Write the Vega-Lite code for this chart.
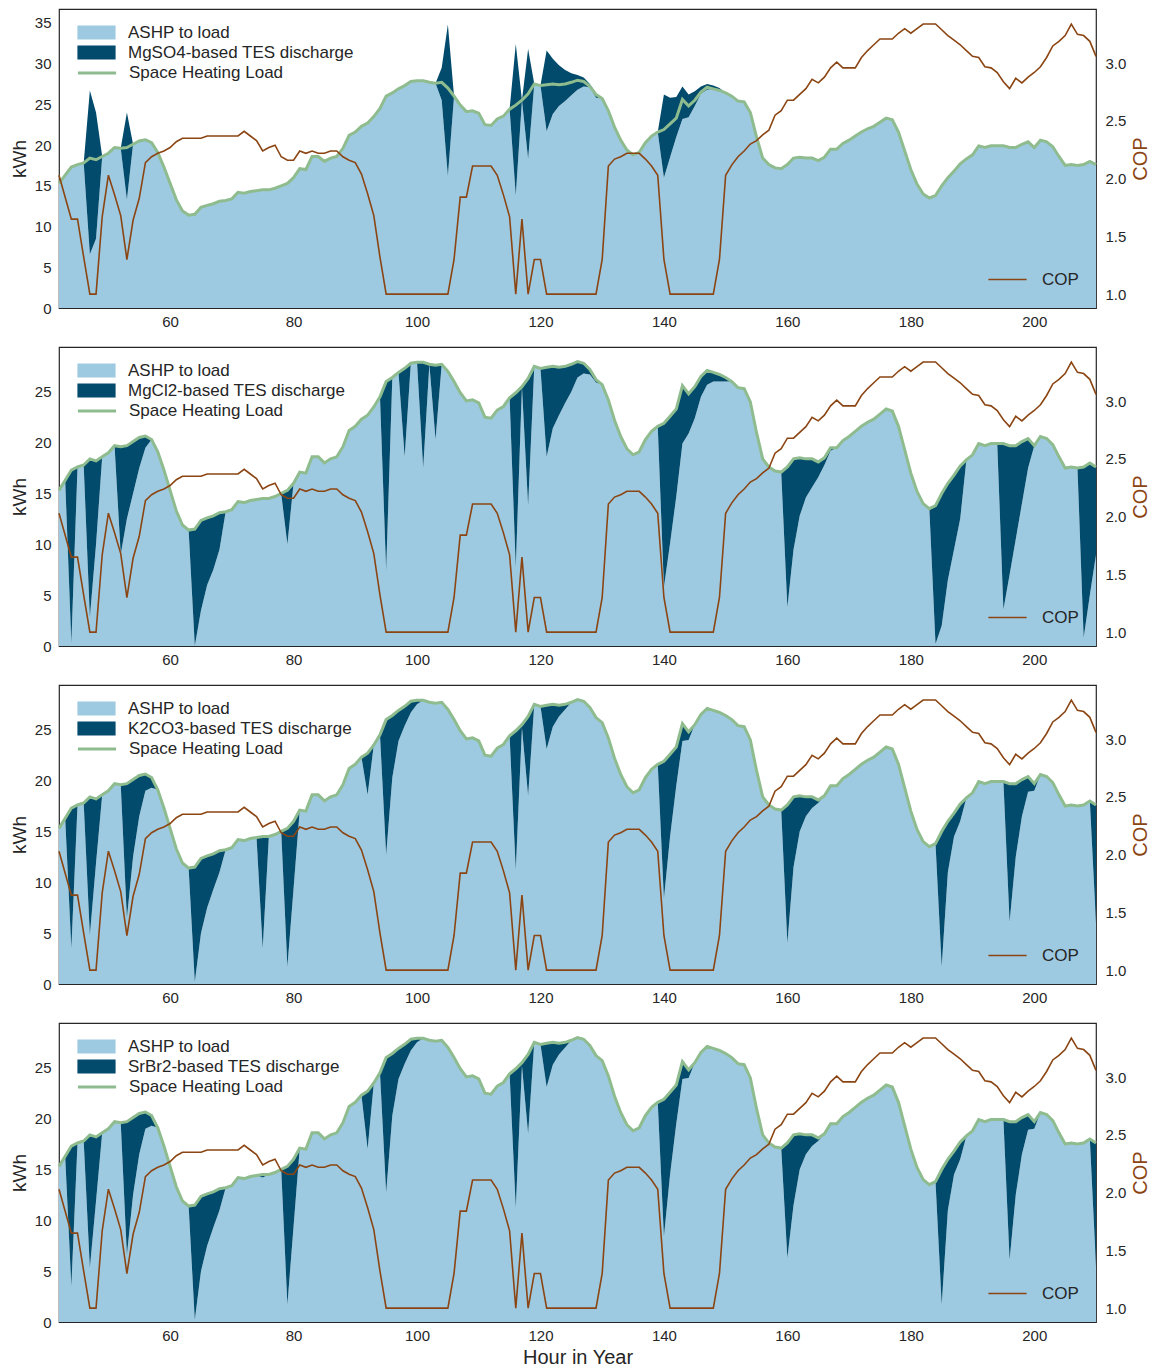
{
"$schema": "https://vega.github.io/schema/vega-lite/v6.json",
"padding": {"left": 9, "top": 8, "right": 4, "bottom": 4},
"data": {"values": [
{"h":42,"L":15.3,"C":2.03,"a1":15.3,"t1":0,"a2":15.3,"t2":0,"a3":15.3,"t3":0,"a4":15.3,"t4":0},
{"h":43,"L":16.3,"C":1.84,"a1":16.3,"t1":0,"a2":16.3,"t2":0,"a3":16.3,"t3":0,"a4":16.3,"t4":0},
{"h":44,"L":17.3,"C":1.65,"a1":17.3,"t1":0,"a2":0.3,"t2":17.0,"a3":3.5,"t3":13.8,"a4":3.5,"t4":13.8},
{"h":45,"L":17.6,"C":1.65,"a1":17.6,"t1":0,"a2":17.6,"t2":0,"a3":17.6,"t3":0,"a4":17.6,"t4":0},
{"h":46,"L":17.8,"C":1.32,"a1":17.8,"t1":0,"a2":17.8,"t2":0,"a3":17.8,"t3":0,"a4":17.8,"t4":0},
{"h":47,"L":18.4,"C":1.0,"a1":6.6,"t1":20.1,"a2":2.8,"t2":15.6,"a3":4.8,"t3":13.6,"a4":5.3,"t4":13.1},
{"h":48,"L":18.2,"C":1.0,"a1":8.5,"t1":15.5,"a2":10.0,"t2":8.2,"a3":11.9,"t3":6.3,"a4":11.9,"t4":6.3},
{"h":49,"L":18.6,"C":1.67,"a1":18.6,"t1":0,"a2":18.6,"t2":0,"a3":18.6,"t3":0,"a4":18.6,"t4":0},
{"h":50,"L":19.0,"C":2.03,"a1":19.0,"t1":0,"a2":19.0,"t2":0,"a3":19.0,"t3":0,"a4":19.0,"t4":0},
{"h":51,"L":19.7,"C":1.86,"a1":19.7,"t1":0,"a2":19.7,"t2":0,"a3":19.7,"t3":0,"a4":19.7,"t4":0},
{"h":52,"L":19.6,"C":1.68,"a1":19.6,"t1":0,"a2":9.0,"t2":10.6,"a3":19.6,"t3":0,"a4":19.6,"t4":0},
{"h":53,"L":19.7,"C":1.30,"a1":13.3,"t1":10.7,"a2":12.5,"t2":7.2,"a3":6.5,"t3":13.2,"a4":6.6,"t4":13.1},
{"h":54,"L":20.1,"C":1.64,"a1":20.1,"t1":0,"a2":15.0,"t2":5.1,"a3":12.5,"t3":7.6,"a4":12.5,"t4":7.6},
{"h":55,"L":20.5,"C":1.83,"a1":20.5,"t1":0,"a2":17.5,"t2":3.0,"a3":16.5,"t3":4.0,"a4":16.5,"t4":4.0},
{"h":56,"L":20.65,"C":2.14,"a1":20.65,"t1":0,"a2":19.5,"t2":1.15,"a3":19.0,"t3":1.65,"a4":19.0,"t4":1.65},
{"h":57,"L":20.3,"C":2.19,"a1":20.3,"t1":0,"a2":20.3,"t2":0,"a3":19.3,"t3":1.0,"a4":19.3,"t4":1.0},
{"h":58,"L":19.1,"C":2.22,"a1":19.1,"t1":0,"a2":19.1,"t2":0,"a3":19.1,"t3":0,"a4":19.1,"t4":0},
{"h":59,"L":17.3,"C":2.24,"a1":17.3,"t1":0,"a2":17.3,"t2":0,"a3":17.3,"t3":0,"a4":17.3,"t4":0},
{"h":60,"L":15.3,"C":2.27,"a1":15.3,"t1":0,"a2":15.3,"t2":0,"a3":15.3,"t3":0,"a4":15.3,"t4":0},
{"h":61,"L":13.3,"C":2.32,"a1":13.3,"t1":0,"a2":13.3,"t2":0,"a3":13.3,"t3":0,"a4":13.3,"t4":0},
{"h":62,"L":11.9,"C":2.35,"a1":11.9,"t1":0,"a2":11.9,"t2":0,"a3":11.9,"t3":0,"a4":11.9,"t4":0},
{"h":63,"L":11.4,"C":2.35,"a1":11.4,"t1":0,"a2":11.4,"t2":0,"a3":11.4,"t3":0,"a4":11.4,"t4":0},
{"h":64,"L":11.5,"C":2.35,"a1":11.5,"t1":0,"a2":0.0,"t2":11.5,"a3":0.2,"t3":11.3,"a4":0.2,"t4":11.3},
{"h":65,"L":12.35,"C":2.35,"a1":12.35,"t1":0,"a2":3.5,"t2":8.85,"a3":5.0,"t3":7.35,"a4":5.0,"t4":7.35},
{"h":66,"L":12.6,"C":2.37,"a1":12.6,"t1":0,"a2":6.0,"t2":6.6,"a3":7.5,"t3":5.1,"a4":7.5,"t4":5.1},
{"h":67,"L":12.8,"C":2.37,"a1":12.8,"t1":0,"a2":7.5,"t2":5.3,"a3":9.3,"t3":3.5,"a4":9.3,"t4":3.5},
{"h":68,"L":13.1,"C":2.37,"a1":13.1,"t1":0,"a2":9.5,"t2":3.6,"a3":11.0,"t3":2.1,"a4":11.0,"t4":2.1},
{"h":69,"L":13.2,"C":2.37,"a1":13.2,"t1":0,"a2":13.2,"t2":0,"a3":13.2,"t3":0,"a4":13.2,"t4":0},
{"h":70,"L":13.4,"C":2.37,"a1":13.4,"t1":0,"a2":13.4,"t2":0,"a3":13.4,"t3":0,"a4":13.4,"t4":0},
{"h":71,"L":14.2,"C":2.37,"a1":14.2,"t1":0,"a2":14.2,"t2":0,"a3":14.2,"t3":0,"a4":14.2,"t4":0},
{"h":72,"L":14.1,"C":2.41,"a1":14.1,"t1":0,"a2":14.1,"t2":0,"a3":14.1,"t3":0,"a4":14.1,"t4":0},
{"h":73,"L":14.3,"C":2.37,"a1":14.3,"t1":0,"a2":14.3,"t2":0,"a3":14.3,"t3":0,"a4":14.3,"t4":0},
{"h":74,"L":14.4,"C":2.33,"a1":14.4,"t1":0,"a2":14.4,"t2":0,"a3":14.4,"t3":0,"a4":14.4,"t4":0},
{"h":75,"L":14.5,"C":2.24,"a1":14.5,"t1":0,"a2":14.5,"t2":0,"a3":3.5,"t3":11.0,"a4":14.2,"t4":0.3},
{"h":76,"L":14.5,"C":2.27,"a1":14.5,"t1":0,"a2":14.5,"t2":0,"a3":14.5,"t3":0,"a4":14.5,"t4":0},
{"h":77,"L":14.7,"C":2.29,"a1":14.7,"t1":0,"a2":14.7,"t2":0,"a3":14.7,"t3":0,"a4":14.7,"t4":0},
{"h":78,"L":15.0,"C":2.19,"a1":15.0,"t1":0,"a2":15.0,"t2":0,"a3":15.0,"t3":0,"a4":15.0,"t4":0},
{"h":79,"L":15.3,"C":2.16,"a1":15.3,"t1":0,"a2":10.0,"t2":5.3,"a3":1.7,"t3":13.6,"a4":1.7,"t4":13.6},
{"h":80,"L":16.0,"C":2.16,"a1":16.0,"t1":0,"a2":16.0,"t2":0,"a3":9.4,"t3":6.6,"a4":9.4,"t4":6.6},
{"h":81,"L":17.1,"C":2.24,"a1":17.1,"t1":0,"a2":17.1,"t2":0,"a3":17.1,"t3":0,"a4":17.1,"t4":0},
{"h":82,"L":17.0,"C":2.22,"a1":17.0,"t1":0,"a2":17.0,"t2":0,"a3":17.0,"t3":0,"a4":17.0,"t4":0},
{"h":83,"L":18.6,"C":2.24,"a1":18.6,"t1":0,"a2":18.6,"t2":0,"a3":18.6,"t3":0,"a4":18.6,"t4":0},
{"h":84,"L":18.6,"C":2.22,"a1":18.6,"t1":0,"a2":18.6,"t2":0,"a3":18.6,"t3":0,"a4":18.6,"t4":0},
{"h":85,"L":18.0,"C":2.22,"a1":18.0,"t1":0,"a2":18.0,"t2":0,"a3":18.0,"t3":0,"a4":18.0,"t4":0},
{"h":86,"L":18.4,"C":2.24,"a1":18.4,"t1":0,"a2":18.4,"t2":0,"a3":18.4,"t3":0,"a4":18.4,"t4":0},
{"h":87,"L":18.6,"C":2.24,"a1":18.6,"t1":0,"a2":18.6,"t2":0,"a3":18.6,"t3":0,"a4":18.6,"t4":0},
{"h":88,"L":19.6,"C":2.19,"a1":19.6,"t1":0,"a2":19.6,"t2":0,"a3":19.6,"t3":0,"a4":19.6,"t4":0},
{"h":89,"L":21.2,"C":2.16,"a1":21.2,"t1":0,"a2":21.2,"t2":0,"a3":21.2,"t3":0,"a4":21.2,"t4":0},
{"h":90,"L":21.6,"C":2.14,"a1":21.6,"t1":0,"a2":21.6,"t2":0,"a3":21.6,"t3":0,"a4":21.6,"t4":0},
{"h":91,"L":22.3,"C":2.04,"a1":22.3,"t1":0,"a2":22.3,"t2":0,"a3":22.3,"t3":0,"a4":22.3,"t4":0},
{"h":92,"L":22.7,"C":1.87,"a1":22.7,"t1":0,"a2":22.7,"t2":0,"a3":18.6,"t3":4.1,"a4":17.0,"t4":5.7},
{"h":93,"L":23.5,"C":1.68,"a1":23.5,"t1":0,"a2":23.5,"t2":0,"a3":23.5,"t3":0,"a4":23.5,"t4":0},
{"h":94,"L":24.5,"C":1.32,"a1":24.5,"t1":0,"a2":24.5,"t2":0,"a3":24.5,"t3":0,"a4":24.5,"t4":0},
{"h":95,"L":26.0,"C":1.0,"a1":26.0,"t1":0,"a2":7.4,"t2":18.6,"a3":12.7,"t3":13.3,"a4":12.7,"t4":13.3},
{"h":96,"L":26.4,"C":1.0,"a1":26.4,"t1":0,"a2":26.4,"t2":0,"a3":20.3,"t3":6.1,"a4":20.3,"t4":6.1},
{"h":97,"L":26.9,"C":1.0,"a1":26.9,"t1":0,"a2":26.9,"t2":0,"a3":23.9,"t3":3.0,"a4":23.9,"t4":3.0},
{"h":98,"L":27.3,"C":1.0,"a1":27.3,"t1":0,"a2":18.6,"t2":8.7,"a3":25.4,"t3":1.9,"a4":25.4,"t4":1.9},
{"h":99,"L":27.8,"C":1.0,"a1":27.8,"t1":0,"a2":27.8,"t2":0,"a3":26.7,"t3":1.1,"a4":26.7,"t4":1.1},
{"h":100,"L":27.9,"C":1.0,"a1":27.9,"t1":0,"a2":27.9,"t2":0,"a3":27.5,"t3":0.4,"a4":27.5,"t4":0.4},
{"h":101,"L":27.9,"C":1.0,"a1":27.9,"t1":0,"a2":17.5,"t2":10.4,"a3":27.9,"t3":0,"a4":27.9,"t4":0},
{"h":102,"L":27.7,"C":1.0,"a1":27.7,"t1":0,"a2":27.7,"t2":0,"a3":27.7,"t3":0,"a4":27.7,"t4":0},
{"h":103,"L":27.6,"C":1.0,"a1":27.6,"t1":0,"a2":20.3,"t2":7.3,"a3":27.6,"t3":0,"a4":27.6,"t4":0},
{"h":104,"L":27.7,"C":1.0,"a1":25.5,"t1":4.0,"a2":27.7,"t2":0,"a3":27.7,"t3":0,"a4":27.7,"t4":0},
{"h":105,"L":27.0,"C":1.0,"a1":16.2,"t1":18.6,"a2":27.0,"t2":0,"a3":27.0,"t3":0,"a4":27.0,"t4":0},
{"h":106,"L":26.0,"C":1.30,"a1":26.0,"t1":0,"a2":26.0,"t2":0,"a3":26.0,"t3":0,"a4":26.0,"t4":0},
{"h":107,"L":24.9,"C":1.84,"a1":24.9,"t1":0,"a2":24.9,"t2":0,"a3":24.9,"t3":0,"a4":24.9,"t4":0},
{"h":108,"L":24.1,"C":1.84,"a1":24.1,"t1":0,"a2":24.1,"t2":0,"a3":24.1,"t3":0,"a4":24.1,"t4":0},
{"h":109,"L":24.2,"C":2.11,"a1":24.2,"t1":0,"a2":24.2,"t2":0,"a3":24.2,"t3":0,"a4":24.2,"t4":0},
{"h":110,"L":23.9,"C":2.11,"a1":23.9,"t1":0,"a2":23.9,"t2":0,"a3":23.9,"t3":0,"a4":23.9,"t4":0},
{"h":111,"L":22.5,"C":2.11,"a1":22.5,"t1":0,"a2":22.5,"t2":0,"a3":22.5,"t3":0,"a4":22.5,"t4":0},
{"h":112,"L":22.4,"C":2.11,"a1":22.4,"t1":0,"a2":22.4,"t2":0,"a3":22.4,"t3":0,"a4":22.4,"t4":0},
{"h":113,"L":23.2,"C":2.03,"a1":23.2,"t1":0,"a2":23.2,"t2":0,"a3":23.2,"t3":0,"a4":23.2,"t4":0},
{"h":114,"L":23.55,"C":1.86,"a1":23.55,"t1":0,"a2":23.55,"t2":0,"a3":23.55,"t3":0,"a4":23.55,"t4":0},
{"h":115,"L":24.4,"C":1.67,"a1":24.4,"t1":0,"a2":24.4,"t2":0,"a3":24.4,"t3":0,"a4":24.4,"t4":0},
{"h":116,"L":24.9,"C":1.0,"a1":13.8,"t1":18.6,"a2":7.7,"t2":17.2,"a3":11.2,"t3":13.7,"a4":11.2,"t4":13.7},
{"h":117,"L":25.5,"C":1.65,"a1":25.5,"t1":0,"a2":25.5,"t2":0,"a3":25.2,"t3":0.3,"a4":25.2,"t4":0.3},
{"h":118,"L":26.3,"C":1.0,"a1":18.3,"t1":13.5,"a2":13.8,"t2":12.5,"a3":18.5,"t3":7.8,"a4":18.5,"t4":7.8},
{"h":119,"L":27.5,"C":1.30,"a1":27.5,"t1":0,"a2":27.5,"t2":0,"a3":27.5,"t3":0,"a4":27.5,"t4":0},
{"h":120,"L":27.3,"C":1.30,"a1":27.3,"t1":0,"a2":27.3,"t2":0,"a3":27.3,"t3":0,"a4":27.3,"t4":0},
{"h":121,"L":27.4,"C":1.0,"a1":21.7,"t1":9.9,"a2":18.6,"t2":8.8,"a3":23.1,"t3":4.3,"a4":23.1,"t4":4.3},
{"h":122,"L":27.5,"C":1.0,"a1":23.8,"t1":6.8,"a2":21.4,"t2":6.1,"a3":25.3,"t3":2.2,"a4":25.3,"t4":2.2},
{"h":123,"L":27.4,"C":1.0,"a1":24.8,"t1":5.0,"a2":22.7,"t2":4.7,"a3":26.3,"t3":1.1,"a4":26.3,"t4":1.1},
{"h":124,"L":27.5,"C":1.0,"a1":25.4,"t1":3.8,"a2":23.9,"t2":3.6,"a3":27.0,"t3":0.5,"a4":27.0,"t4":0.5},
{"h":125,"L":27.7,"C":1.0,"a1":26.1,"t1":2.7,"a2":25.0,"t2":2.7,"a3":27.7,"t3":0,"a4":27.7,"t4":0},
{"h":126,"L":27.96,"C":1.0,"a1":26.8,"t1":1.8,"a2":26.4,"t2":1.56,"a3":27.96,"t3":0,"a4":27.96,"t4":0},
{"h":127,"L":27.8,"C":1.0,"a1":27.2,"t1":1.1,"a2":26.8,"t2":1.0,"a3":27.8,"t3":0,"a4":27.8,"t4":0},
{"h":128,"L":27.2,"C":1.0,"a1":27.1,"t1":0.4,"a2":26.7,"t2":0.5,"a3":27.2,"t3":0,"a4":27.2,"t4":0},
{"h":129,"L":26.2,"C":1.0,"a1":25.8,"t1":0.6,"a2":25.9,"t2":0.3,"a3":26.2,"t3":0,"a4":26.2,"t4":0},
{"h":130,"L":25.7,"C":1.30,"a1":25.7,"t1":0,"a2":25.7,"t2":0,"a3":25.7,"t3":0,"a4":25.7,"t4":0},
{"h":131,"L":24.2,"C":2.11,"a1":24.2,"t1":0,"a2":24.2,"t2":0,"a3":24.2,"t3":0,"a4":24.2,"t4":0},
{"h":132,"L":22.2,"C":2.17,"a1":22.2,"t1":0,"a2":22.2,"t2":0,"a3":22.2,"t3":0,"a4":22.2,"t4":0},
{"h":133,"L":20.6,"C":2.19,"a1":20.6,"t1":0,"a2":20.6,"t2":0,"a3":20.6,"t3":0,"a4":20.6,"t4":0},
{"h":134,"L":19.4,"C":2.22,"a1":19.4,"t1":0,"a2":19.4,"t2":0,"a3":19.4,"t3":0,"a4":19.4,"t4":0},
{"h":135,"L":18.8,"C":2.22,"a1":18.8,"t1":0,"a2":18.8,"t2":0,"a3":18.8,"t3":0,"a4":18.8,"t4":0},
{"h":136,"L":19.1,"C":2.22,"a1":19.1,"t1":0,"a2":19.1,"t2":0,"a3":19.1,"t3":0,"a4":19.1,"t4":0},
{"h":137,"L":20.3,"C":2.17,"a1":20.3,"t1":0,"a2":20.3,"t2":0,"a3":20.3,"t3":0,"a4":20.3,"t4":0},
{"h":138,"L":21.1,"C":2.11,"a1":21.1,"t1":0,"a2":21.1,"t2":0,"a3":21.1,"t3":0,"a4":21.1,"t4":0},
{"h":139,"L":21.6,"C":2.03,"a1":21.6,"t1":0,"a2":21.6,"t2":0,"a3":21.6,"t3":0,"a4":21.6,"t4":0},
{"h":140,"L":21.9,"C":1.30,"a1":16.0,"t1":10.2,"a2":5.8,"t2":16.1,"a3":8.4,"t3":13.5,"a4":8.4,"t4":13.5},
{"h":141,"L":22.6,"C":1.0,"a1":18.5,"t1":7.3,"a2":10.1,"t2":12.5,"a3":14.5,"t3":8.1,"a4":14.5,"t4":8.1},
{"h":142,"L":23.3,"C":1.0,"a1":21.0,"t1":4.9,"a2":14.7,"t2":8.6,"a3":19.5,"t3":3.8,"a4":19.5,"t4":3.8},
{"h":143,"L":25.6,"C":1.0,"a1":23.2,"t1":4.0,"a2":19.9,"t2":5.7,"a3":23.9,"t3":1.7,"a4":23.9,"t4":1.7},
{"h":144,"L":24.8,"C":1.0,"a1":23.4,"t1":2.8,"a2":20.9,"t2":3.9,"a3":24.0,"t3":0.8,"a4":24.0,"t4":0.8},
{"h":145,"L":25.5,"C":1.0,"a1":24.8,"t1":1.8,"a2":22.4,"t2":3.1,"a3":25.5,"t3":0,"a4":25.5,"t4":0},
{"h":146,"L":26.5,"C":1.0,"a1":26.3,"t1":0.9,"a2":24.5,"t2":2.0,"a3":26.5,"t3":0,"a4":26.5,"t4":0},
{"h":147,"L":27.1,"C":1.0,"a1":26.8,"t1":0.7,"a2":25.7,"t2":1.4,"a3":27.1,"t3":0,"a4":27.1,"t4":0},
{"h":148,"L":26.9,"C":1.0,"a1":26.9,"t1":0.4,"a2":26.0,"t2":0.9,"a3":26.9,"t3":0,"a4":26.9,"t4":0},
{"h":149,"L":26.7,"C":1.30,"a1":26.7,"t1":0.3,"a2":26.0,"t2":0.7,"a3":26.7,"t3":0,"a4":26.7,"t4":0},
{"h":150,"L":26.4,"C":2.03,"a1":26.4,"t1":0,"a2":26.0,"t2":0.4,"a3":26.4,"t3":0,"a4":26.4,"t4":0},
{"h":151,"L":26.0,"C":2.12,"a1":26.0,"t1":0,"a2":26.0,"t2":0,"a3":26.0,"t3":0,"a4":26.0,"t4":0},
{"h":152,"L":25.4,"C":2.19,"a1":25.4,"t1":0,"a2":25.4,"t2":0,"a3":25.4,"t3":0,"a4":25.4,"t4":0},
{"h":153,"L":25.3,"C":2.24,"a1":25.3,"t1":0,"a2":25.3,"t2":0,"a3":25.3,"t3":0,"a4":25.3,"t4":0},
{"h":154,"L":24.0,"C":2.30,"a1":24.0,"t1":0,"a2":24.0,"t2":0,"a3":24.0,"t3":0,"a4":24.0,"t4":0},
{"h":155,"L":21.0,"C":2.33,"a1":21.0,"t1":0,"a2":21.0,"t2":0,"a3":21.0,"t3":0,"a4":21.0,"t4":0},
{"h":156,"L":18.4,"C":2.38,"a1":18.4,"t1":0,"a2":18.4,"t2":0,"a3":18.4,"t3":0,"a4":18.4,"t4":0},
{"h":157,"L":17.6,"C":2.42,"a1":17.6,"t1":0,"a2":17.6,"t2":0,"a3":17.6,"t3":0,"a4":17.6,"t4":0},
{"h":158,"L":17.2,"C":2.55,"a1":17.2,"t1":0,"a2":17.2,"t2":0,"a3":17.2,"t3":0,"a4":17.2,"t4":0},
{"h":159,"L":17.1,"C":2.59,"a1":17.1,"t1":0,"a2":17.1,"t2":0,"a3":17.1,"t3":0,"a4":17.1,"t4":0},
{"h":160,"L":17.6,"C":2.68,"a1":17.6,"t1":0,"a2":3.8,"t2":13.8,"a3":4.0,"t3":13.6,"a4":6.3,"t4":11.3},
{"h":161,"L":18.4,"C":2.68,"a1":18.4,"t1":0,"a2":9.5,"t2":8.9,"a3":11.5,"t3":6.9,"a4":11.5,"t4":6.9},
{"h":162,"L":18.5,"C":2.73,"a1":18.5,"t1":0,"a2":12.8,"t2":5.7,"a3":15.0,"t3":3.5,"a4":15.0,"t4":3.5},
{"h":163,"L":18.4,"C":2.78,"a1":18.4,"t1":0,"a2":14.6,"t2":3.8,"a3":16.5,"t3":1.9,"a4":16.5,"t4":1.9},
{"h":164,"L":18.4,"C":2.86,"a1":18.4,"t1":0,"a2":15.6,"t2":2.8,"a3":17.3,"t3":1.1,"a4":17.3,"t4":1.1},
{"h":165,"L":18.1,"C":2.83,"a1":18.1,"t1":0,"a2":16.6,"t2":1.5,"a3":17.8,"t3":0.3,"a4":17.8,"t4":0.3},
{"h":166,"L":18.5,"C":2.88,"a1":18.5,"t1":0,"a2":17.8,"t2":0.7,"a3":18.5,"t3":0,"a4":18.5,"t4":0},
{"h":167,"L":19.5,"C":2.96,"a1":19.5,"t1":0,"a2":19.2,"t2":0.3,"a3":19.5,"t3":0,"a4":19.5,"t4":0},
{"h":168,"L":19.5,"C":3.01,"a1":19.5,"t1":0,"a2":19.5,"t2":0,"a3":19.5,"t3":0,"a4":19.5,"t4":0},
{"h":169,"L":20.2,"C":2.96,"a1":20.2,"t1":0,"a2":20.2,"t2":0,"a3":20.2,"t3":0,"a4":20.2,"t4":0},
{"h":170,"L":20.6,"C":2.96,"a1":20.6,"t1":0,"a2":20.6,"t2":0,"a3":20.6,"t3":0,"a4":20.6,"t4":0},
{"h":171,"L":21.1,"C":2.96,"a1":21.1,"t1":0,"a2":21.1,"t2":0,"a3":21.1,"t3":0,"a4":21.1,"t4":0},
{"h":172,"L":21.6,"C":3.05,"a1":21.6,"t1":0,"a2":21.6,"t2":0,"a3":21.6,"t3":0,"a4":21.6,"t4":0},
{"h":173,"L":22.0,"C":3.11,"a1":22.0,"t1":0,"a2":22.0,"t2":0,"a3":22.0,"t3":0,"a4":22.0,"t4":0},
{"h":174,"L":22.3,"C":3.16,"a1":22.3,"t1":0,"a2":22.3,"t2":0,"a3":22.3,"t3":0,"a4":22.3,"t4":0},
{"h":175,"L":22.8,"C":3.21,"a1":22.8,"t1":0,"a2":22.8,"t2":0,"a3":22.8,"t3":0,"a4":22.8,"t4":0},
{"h":176,"L":23.3,"C":3.21,"a1":23.3,"t1":0,"a2":23.3,"t2":0,"a3":23.3,"t3":0,"a4":23.3,"t4":0},
{"h":177,"L":23.1,"C":3.21,"a1":23.1,"t1":0,"a2":23.1,"t2":0,"a3":23.1,"t3":0,"a4":23.1,"t4":0},
{"h":178,"L":21.6,"C":3.26,"a1":21.6,"t1":0,"a2":21.6,"t2":0,"a3":21.6,"t3":0,"a4":21.6,"t4":0},
{"h":179,"L":19.3,"C":3.30,"a1":19.3,"t1":0,"a2":19.3,"t2":0,"a3":19.3,"t3":0,"a4":19.3,"t4":0},
{"h":180,"L":17.0,"C":3.26,"a1":17.0,"t1":0,"a2":17.0,"t2":0,"a3":17.0,"t3":0,"a4":17.0,"t4":0},
{"h":181,"L":15.2,"C":3.30,"a1":15.2,"t1":0,"a2":15.2,"t2":0,"a3":15.2,"t3":0,"a4":15.2,"t4":0},
{"h":182,"L":14.0,"C":3.34,"a1":14.0,"t1":0,"a2":14.0,"t2":0,"a3":14.0,"t3":0,"a4":14.0,"t4":0},
{"h":183,"L":13.5,"C":3.34,"a1":13.5,"t1":0,"a2":13.5,"t2":0,"a3":13.5,"t3":0,"a4":13.5,"t4":0},
{"h":184,"L":13.8,"C":3.34,"a1":13.8,"t1":0,"a2":0.2,"t2":13.6,"a3":13.8,"t3":0,"a4":13.8,"t4":0},
{"h":185,"L":15.0,"C":3.29,"a1":15.0,"t1":0,"a2":2.0,"t2":13.0,"a3":1.7,"t3":13.3,"a4":1.7,"t4":13.3},
{"h":186,"L":16.0,"C":3.24,"a1":16.0,"t1":0,"a2":6.5,"t2":9.5,"a3":11.0,"t3":5.0,"a4":11.0,"t4":5.0},
{"h":187,"L":16.8,"C":3.20,"a1":16.8,"t1":0,"a2":9.5,"t2":7.3,"a3":14.5,"t3":2.3,"a4":14.5,"t4":2.3},
{"h":188,"L":17.7,"C":3.16,"a1":17.7,"t1":0,"a2":12.5,"t2":5.2,"a3":16.0,"t3":1.7,"a4":16.0,"t4":1.7},
{"h":189,"L":18.3,"C":3.11,"a1":18.3,"t1":0,"a2":18.3,"t2":0,"a3":18.3,"t3":0,"a4":18.3,"t4":0},
{"h":190,"L":18.8,"C":3.06,"a1":18.8,"t1":0,"a2":18.8,"t2":0,"a3":18.8,"t3":0,"a4":18.8,"t4":0},
{"h":191,"L":19.9,"C":3.05,"a1":19.9,"t1":0,"a2":19.9,"t2":0,"a3":19.9,"t3":0,"a4":19.9,"t4":0},
{"h":192,"L":19.7,"C":2.97,"a1":19.7,"t1":0,"a2":19.7,"t2":0,"a3":19.7,"t3":0,"a4":19.7,"t4":0},
{"h":193,"L":19.9,"C":2.96,"a1":19.9,"t1":0,"a2":19.9,"t2":0,"a3":19.9,"t3":0,"a4":19.9,"t4":0},
{"h":194,"L":19.9,"C":2.92,"a1":19.9,"t1":0,"a2":19.9,"t2":0,"a3":19.9,"t3":0,"a4":19.9,"t4":0},
{"h":195,"L":19.9,"C":2.84,"a1":19.9,"t1":0,"a2":3.6,"t2":16.3,"a3":19.9,"t3":0,"a4":19.9,"t4":0},
{"h":196,"L":19.7,"C":2.78,"a1":19.7,"t1":0,"a2":7.0,"t2":12.7,"a3":6.1,"t3":13.6,"a4":6.1,"t4":13.6},
{"h":197,"L":19.7,"C":2.87,"a1":19.7,"t1":0,"a2":10.5,"t2":9.2,"a3":12.5,"t3":7.2,"a4":12.5,"t4":7.2},
{"h":198,"L":20.1,"C":2.83,"a1":20.1,"t1":0,"a2":14.0,"t2":6.1,"a3":16.5,"t3":3.6,"a4":16.5,"t4":3.6},
{"h":199,"L":20.4,"C":2.88,"a1":20.4,"t1":0,"a2":17.5,"t2":2.9,"a3":18.9,"t3":1.5,"a4":18.9,"t4":1.5},
{"h":200,"L":19.7,"C":2.92,"a1":19.7,"t1":0,"a2":19.7,"t2":0,"a3":19.0,"t3":0.7,"a4":19.0,"t4":0.7},
{"h":201,"L":20.6,"C":2.97,"a1":20.6,"t1":0,"a2":20.6,"t2":0,"a3":20.6,"t3":0,"a4":20.6,"t4":0},
{"h":202,"L":20.4,"C":3.05,"a1":20.4,"t1":0,"a2":20.4,"t2":0,"a3":20.4,"t3":0,"a4":20.4,"t4":0},
{"h":203,"L":19.8,"C":3.15,"a1":19.8,"t1":0,"a2":19.8,"t2":0,"a3":19.8,"t3":0,"a4":19.8,"t4":0},
{"h":204,"L":18.6,"C":3.19,"a1":18.6,"t1":0,"a2":18.6,"t2":0,"a3":18.6,"t3":0,"a4":18.6,"t4":0},
{"h":205,"L":17.5,"C":3.24,"a1":17.5,"t1":0,"a2":17.5,"t2":0,"a3":17.5,"t3":0,"a4":17.5,"t4":0},
{"h":206,"L":17.6,"C":3.34,"a1":17.6,"t1":0,"a2":17.6,"t2":0,"a3":17.6,"t3":0,"a4":17.6,"t4":0},
{"h":207,"L":17.5,"C":3.25,"a1":17.5,"t1":0,"a2":17.5,"t2":0,"a3":17.5,"t3":0,"a4":17.5,"t4":0},
{"h":208,"L":17.6,"C":3.24,"a1":17.6,"t1":0,"a2":0.8,"t2":16.8,"a3":17.6,"t3":0,"a4":17.6,"t4":0},
{"h":209,"L":18.0,"C":3.19,"a1":18.0,"t1":0,"a2":5.0,"t2":13.0,"a3":18.0,"t3":0,"a4":18.0,"t4":0},
{"h":210,"L":17.6,"C":3.06,"a1":17.6,"t1":0,"a2":9.0,"t2":8.6,"a3":6.0,"t3":11.6,"a4":5.5,"t4":12.1}
]},
"spacing": 39,
"bounds": "flush",
"resolve": {"scale": {"fill": "independent", "stroke": "independent", "x": "independent", "y": "independent"}, "legend": {"fill": "independent", "stroke": "independent"}},
"vconcat": [
{
 "width": 1037, "height": 299,
 "encoding": {"x": {"field": "h", "type": "quantitative", "scale": {"domain": [42, 210], "nice": false, "zero": false}, "axis": {"values": [60,80,100,120,140,160,180,200], "title": null, "labelPadding": 6}}},
 "layer": [
  {"layer": [
   {"transform": [{"fold": ["a1", "t1"], "as": ["k", "v"]}],
    "mark": {"type": "area", "opacity": 1, "interpolate": "linear"},
    "encoding": {
     "y": {"field": "v", "type": "quantitative", "stack": "zero", "scale": {"domain": [0, 36.7], "nice": false}, "axis": {"title": "kWh", "values": [0,5,10,15,20,25,30,35], "labelPadding": 8, "titleX": -40, "titleY": 149.5, "titleAngle": -90, "titleAlign": "center", "titleBaseline": "middle"}},
     "fill": {"field": "k", "type": "nominal", "scale": {"domain": ["a1", "t1"], "range": ["#9ecae1", "#024b6c"]},
      "legend": {"orient": "none", "legendX": 29, "legendY": 15, "title": null, "direction": "vertical", "labelFontSize": 17, "labelColor": "#262626", "labelOffset": 23, "labelLimit": 400, "rowPadding": 2, "symbolSize": 200, "padding": 0, "symbolType": "M-2.7,-1H2.7V1H-2.7Z", "symbolOpacity": 1, "symbolStrokeWidth": 0,
       "labelExpr": "datum.value === 'a1' ? 'ASHP to load' : 'MgSO4-based TES discharge'"}},
     "order": {"field": "k", "type": "nominal", "sort": "ascending"}
    }},
   {"mark": {"type": "line", "strokeWidth": 3},
    "encoding": {"y": {"field": "L", "type": "quantitative", "scale": {"domain": [0, 36.7], "nice": false}, "axis": {"title": "kWh", "values": [0,5,10,15,20,25,30,35], "labelPadding": 8, "titleX": -40, "titleY": 149.5, "titleAngle": -90, "titleAlign": "center", "titleBaseline": "middle"}},
     "stroke": {"datum": "Space Heating Load", "scale": {"domain": ["Space Heating Load"], "range": ["#8fbc8f"]}, "legend": {"orient": "none", "legendX": 29, "legendY": 55, "title": null, "labelFontSize": 17, "labelColor": "#262626", "labelOffset": 23, "labelLimit": 400, "symbolSize": 200, "padding": 0, "symbolType": "M-2.7,0H2.7", "symbolStrokeWidth": 3}}}}
  ]},
  {"mark": {"type": "line", "strokeWidth": 1.6},
   "encoding": {
    "y": {"field": "C", "type": "quantitative", "scale": {"domain": [0.88, 3.47], "nice": false, "zero": false}, "axis": {"orient": "right", "title": "COP", "values": [1,1.5,2,2.5,3], "format": ".1f", "labelPadding": 9, "titleColor": "#8b4513", "titleFontSize": 20, "titleX": 44, "titleY": 149.5, "titleAngle": -90, "titleAlign": "center", "titleBaseline": "middle"}},
    "stroke": {"datum": "COP", "scale": {"domain": ["COP"], "range": ["#8b4513"]}, "legend": {"orient": "none", "legendX": 940, "legendY": 262, "title": null, "labelFontSize": 17, "labelColor": "#262626", "labelOffset": 26, "symbolSize": 200, "padding": 0, "symbolType": "M-2.7,0H2.7", "symbolStrokeWidth": 1.6}}
   }}
 ],
 "resolve": {"scale": {"y": "independent", "stroke": "independent"}, "legend": {"stroke": "independent"}}
},
{
 "width": 1037, "height": 299,
 "encoding": {"x": {"field": "h", "type": "quantitative", "scale": {"domain": [42, 210], "nice": false, "zero": false}, "axis": {"values": [60,80,100,120,140,160,180,200], "title": null, "labelPadding": 6}}},
 "layer": [
  {"layer": [
   {"transform": [{"fold": ["a2", "t2"], "as": ["k", "v"]}],
    "mark": {"type": "area", "opacity": 1, "interpolate": "linear"},
    "encoding": {
     "y": {"field": "v", "type": "quantitative", "stack": "zero", "scale": {"domain": [0, 29.4], "nice": false}, "axis": {"title": "kWh", "values": [0,5,10,15,20,25], "labelPadding": 8, "titleX": -40, "titleY": 149.5, "titleAngle": -90, "titleAlign": "center", "titleBaseline": "middle"}},
     "fill": {"field": "k", "type": "nominal", "scale": {"domain": ["a2", "t2"], "range": ["#9ecae1", "#024b6c"]},
      "legend": {"orient": "none", "legendX": 29, "legendY": 15, "title": null, "direction": "vertical", "labelFontSize": 17, "labelColor": "#262626", "labelOffset": 23, "labelLimit": 400, "rowPadding": 2, "symbolSize": 200, "padding": 0, "symbolType": "M-2.7,-1H2.7V1H-2.7Z", "symbolOpacity": 1, "symbolStrokeWidth": 0,
       "labelExpr": "datum.value === 'a2' ? 'ASHP to load' : 'MgCl2-based TES discharge'"}},
     "order": {"field": "k", "type": "nominal", "sort": "ascending"}
    }},
   {"mark": {"type": "line", "strokeWidth": 3},
    "encoding": {"y": {"field": "L", "type": "quantitative", "scale": {"domain": [0, 29.4], "nice": false}, "axis": {"title": "kWh", "values": [0,5,10,15,20,25], "labelPadding": 8, "titleX": -40, "titleY": 149.5, "titleAngle": -90, "titleAlign": "center", "titleBaseline": "middle"}},
     "stroke": {"datum": "Space Heating Load", "scale": {"domain": ["Space Heating Load"], "range": ["#8fbc8f"]}, "legend": {"orient": "none", "legendX": 29, "legendY": 55, "title": null, "labelFontSize": 17, "labelColor": "#262626", "labelOffset": 23, "labelLimit": 400, "symbolSize": 200, "padding": 0, "symbolType": "M-2.7,0H2.7", "symbolStrokeWidth": 3}}}}
  ]},
  {"mark": {"type": "line", "strokeWidth": 1.6},
   "encoding": {
    "y": {"field": "C", "type": "quantitative", "scale": {"domain": [0.88, 3.47], "nice": false, "zero": false}, "axis": {"orient": "right", "title": "COP", "values": [1,1.5,2,2.5,3], "format": ".1f", "labelPadding": 9, "titleColor": "#8b4513", "titleFontSize": 20, "titleX": 44, "titleY": 149.5, "titleAngle": -90, "titleAlign": "center", "titleBaseline": "middle"}},
    "stroke": {"datum": "COP", "scale": {"domain": ["COP"], "range": ["#8b4513"]}, "legend": {"orient": "none", "legendX": 940, "legendY": 262, "title": null, "labelFontSize": 17, "labelColor": "#262626", "labelOffset": 26, "symbolSize": 200, "padding": 0, "symbolType": "M-2.7,0H2.7", "symbolStrokeWidth": 1.6}}
   }}
 ],
 "resolve": {"scale": {"y": "independent", "stroke": "independent"}, "legend": {"stroke": "independent"}}
},
{
 "width": 1037, "height": 299,
 "encoding": {"x": {"field": "h", "type": "quantitative", "scale": {"domain": [42, 210], "nice": false, "zero": false}, "axis": {"values": [60,80,100,120,140,160,180,200], "title": null, "labelPadding": 6}}},
 "layer": [
  {"layer": [
   {"transform": [{"fold": ["a3", "t3"], "as": ["k", "v"]}],
    "mark": {"type": "area", "opacity": 1, "interpolate": "linear"},
    "encoding": {
     "y": {"field": "v", "type": "quantitative", "stack": "zero", "scale": {"domain": [0, 29.4], "nice": false}, "axis": {"title": "kWh", "values": [0,5,10,15,20,25], "labelPadding": 8, "titleX": -40, "titleY": 149.5, "titleAngle": -90, "titleAlign": "center", "titleBaseline": "middle"}},
     "fill": {"field": "k", "type": "nominal", "scale": {"domain": ["a3", "t3"], "range": ["#9ecae1", "#024b6c"]},
      "legend": {"orient": "none", "legendX": 29, "legendY": 15, "title": null, "direction": "vertical", "labelFontSize": 17, "labelColor": "#262626", "labelOffset": 23, "labelLimit": 400, "rowPadding": 2, "symbolSize": 200, "padding": 0, "symbolType": "M-2.7,-1H2.7V1H-2.7Z", "symbolOpacity": 1, "symbolStrokeWidth": 0,
       "labelExpr": "datum.value === 'a3' ? 'ASHP to load' : 'K2CO3-based TES discharge'"}},
     "order": {"field": "k", "type": "nominal", "sort": "ascending"}
    }},
   {"mark": {"type": "line", "strokeWidth": 3},
    "encoding": {"y": {"field": "L", "type": "quantitative", "scale": {"domain": [0, 29.4], "nice": false}, "axis": {"title": "kWh", "values": [0,5,10,15,20,25], "labelPadding": 8, "titleX": -40, "titleY": 149.5, "titleAngle": -90, "titleAlign": "center", "titleBaseline": "middle"}},
     "stroke": {"datum": "Space Heating Load", "scale": {"domain": ["Space Heating Load"], "range": ["#8fbc8f"]}, "legend": {"orient": "none", "legendX": 29, "legendY": 55, "title": null, "labelFontSize": 17, "labelColor": "#262626", "labelOffset": 23, "labelLimit": 400, "symbolSize": 200, "padding": 0, "symbolType": "M-2.7,0H2.7", "symbolStrokeWidth": 3}}}}
  ]},
  {"mark": {"type": "line", "strokeWidth": 1.6},
   "encoding": {
    "y": {"field": "C", "type": "quantitative", "scale": {"domain": [0.88, 3.47], "nice": false, "zero": false}, "axis": {"orient": "right", "title": "COP", "values": [1,1.5,2,2.5,3], "format": ".1f", "labelPadding": 9, "titleColor": "#8b4513", "titleFontSize": 20, "titleX": 44, "titleY": 149.5, "titleAngle": -90, "titleAlign": "center", "titleBaseline": "middle"}},
    "stroke": {"datum": "COP", "scale": {"domain": ["COP"], "range": ["#8b4513"]}, "legend": {"orient": "none", "legendX": 940, "legendY": 262, "title": null, "labelFontSize": 17, "labelColor": "#262626", "labelOffset": 26, "symbolSize": 200, "padding": 0, "symbolType": "M-2.7,0H2.7", "symbolStrokeWidth": 1.6}}
   }}
 ],
 "resolve": {"scale": {"y": "independent", "stroke": "independent"}, "legend": {"stroke": "independent"}}
},
{
 "width": 1037, "height": 299,
 "encoding": {"x": {"field": "h", "type": "quantitative", "scale": {"domain": [42, 210], "nice": false, "zero": false}, "axis": {"values": [60,80,100,120,140,160,180,200], "title": "Hour in Year", "labelPadding": 6, "titleFontSize": 20, "titleX": 518.5, "titleY": 35, "titleBaseline": "middle", "titleAlign": "center"}}},
 "layer": [
  {"layer": [
   {"transform": [{"fold": ["a4", "t4"], "as": ["k", "v"]}],
    "mark": {"type": "area", "opacity": 1, "interpolate": "linear"},
    "encoding": {
     "y": {"field": "v", "type": "quantitative", "stack": "zero", "scale": {"domain": [0, 29.4], "nice": false}, "axis": {"title": "kWh", "values": [0,5,10,15,20,25], "labelPadding": 8, "titleX": -40, "titleY": 149.5, "titleAngle": -90, "titleAlign": "center", "titleBaseline": "middle"}},
     "fill": {"field": "k", "type": "nominal", "scale": {"domain": ["a4", "t4"], "range": ["#9ecae1", "#024b6c"]},
      "legend": {"orient": "none", "legendX": 29, "legendY": 15, "title": null, "direction": "vertical", "labelFontSize": 17, "labelColor": "#262626", "labelOffset": 23, "labelLimit": 400, "rowPadding": 2, "symbolSize": 200, "padding": 0, "symbolType": "M-2.7,-1H2.7V1H-2.7Z", "symbolOpacity": 1, "symbolStrokeWidth": 0,
       "labelExpr": "datum.value === 'a4' ? 'ASHP to load' : 'SrBr2-based TES discharge'"}},
     "order": {"field": "k", "type": "nominal", "sort": "ascending"}
    }},
   {"mark": {"type": "line", "strokeWidth": 3},
    "encoding": {"y": {"field": "L", "type": "quantitative", "scale": {"domain": [0, 29.4], "nice": false}, "axis": {"title": "kWh", "values": [0,5,10,15,20,25], "labelPadding": 8, "titleX": -40, "titleY": 149.5, "titleAngle": -90, "titleAlign": "center", "titleBaseline": "middle"}},
     "stroke": {"datum": "Space Heating Load", "scale": {"domain": ["Space Heating Load"], "range": ["#8fbc8f"]}, "legend": {"orient": "none", "legendX": 29, "legendY": 55, "title": null, "labelFontSize": 17, "labelColor": "#262626", "labelOffset": 23, "labelLimit": 400, "symbolSize": 200, "padding": 0, "symbolType": "M-2.7,0H2.7", "symbolStrokeWidth": 3}}}}
  ]},
  {"mark": {"type": "line", "strokeWidth": 1.6},
   "encoding": {
    "y": {"field": "C", "type": "quantitative", "scale": {"domain": [0.88, 3.47], "nice": false, "zero": false}, "axis": {"orient": "right", "title": "COP", "values": [1,1.5,2,2.5,3], "format": ".1f", "labelPadding": 9, "titleColor": "#8b4513", "titleFontSize": 20, "titleX": 44, "titleY": 149.5, "titleAngle": -90, "titleAlign": "center", "titleBaseline": "middle"}},
    "stroke": {"datum": "COP", "scale": {"domain": ["COP"], "range": ["#8b4513"]}, "legend": {"orient": "none", "legendX": 940, "legendY": 262, "title": null, "labelFontSize": 17, "labelColor": "#262626", "labelOffset": 26, "symbolSize": 200, "padding": 0, "symbolType": "M-2.7,0H2.7", "symbolStrokeWidth": 1.6}}
   }}
 ],
 "resolve": {"scale": {"y": "independent", "stroke": "independent"}, "legend": {"stroke": "independent"}}
}
],
"config": {
 "font": "Liberation Sans",
 "view": {"stroke": "#262626", "strokeWidth": 1.2},
 "axis": {"grid": false, "ticks": false, "domain": false, "labelFontSize": 15, "labelColor": "#262626", "titleColor": "#262626", "titleFontWeight": "normal", "titleFontSize": 19, "labelFont": "Liberation Sans", "titleFont": "Liberation Sans"},
 "legend": {"labelFont": "Liberation Sans"}
}
}
